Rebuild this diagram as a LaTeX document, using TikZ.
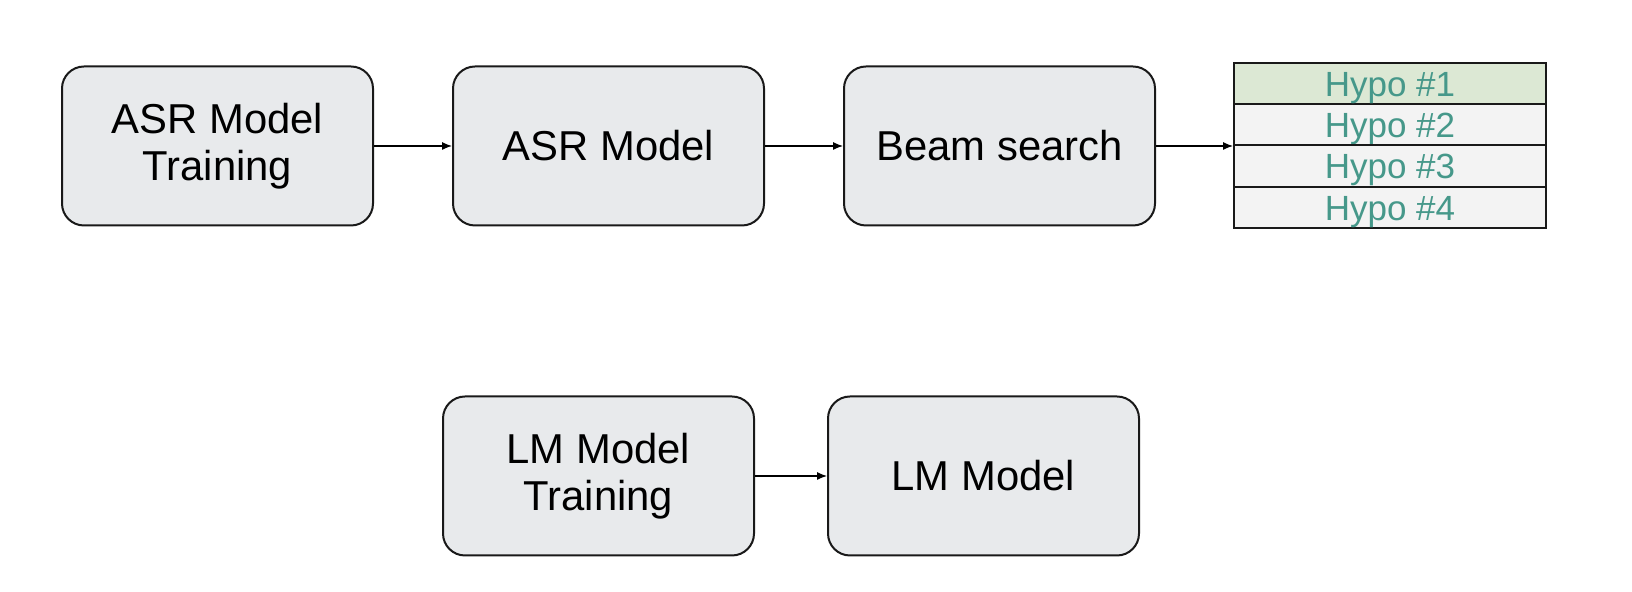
\documentclass[tikz,border=0pt]{standalone}
\usepackage{fontspec}
\setmainfont{Liberation Sans}
\usetikzlibrary{arrows.meta,positioning}
\definecolor{boxgray}{HTML}{E8EAEC}
\definecolor{hypogreen}{HTML}{DCE8D4}
\definecolor{hypogray}{HTML}{F3F3F3}
\definecolor{hypotext}{HTML}{46988A}
\tikzstyle{stage}=[rectangle,rounded corners=11pt,draw=black!90,line width=1pt,fill=boxgray,minimum width=155.5pt,minimum height=79.5pt,align=center,font=\fontsize{20.9}{23.5}\selectfont]
\tikzstyle{hypo}=[rectangle,draw=black!90,line width=1pt,fill=hypogray,minimum width=156pt,minimum height=20.6pt,inner sep=0pt,text height=16.5pt,text depth=3.7pt,text=hypotext,font=\fontsize{17.5}{20}\selectfont]
\tikzstyle{flow} = [draw,line width=0.6pt,-{Latex[length=5pt,width=4pt]}]

\begin{document}
\begin{tikzpicture}[x=0.5pt,y=0.5pt]
\useasboundingbox (0,0) rectangle (1632,592);

% upper row: ASR pipeline
    \foreach \pos/\name/\label in {{(217.5,446)/asrtrain/ASR Model\\Training}, {(608.5,446)/asr/ASR Model}, {(999.5,446)/beam/Beam search}}
        \node[stage] (\name) at \pos {\label};

% n-best list
    \foreach \pos/\name/\label in {{(1390,508.4)/hypoA/Hypo \#1}, {(1390,467.1)/hypoB/Hypo \#2}, {(1390,425.9)/hypoC/Hypo \#3}, {(1390,384.6)/hypoD/Hypo \#4}}
        \node[hypo] (\name) at \pos {\label};
    \node[hypo, fill=hypogreen] at (hypoA) {Hypo \#1};

% lower row: LM
    \foreach \pos/\name/\label in {{(598.5,116)/lmtrain/LM Model\\Training}, {(983.5,116)/lm/LM Model}}
        \node[stage] (\name) at \pos {\label};

  \foreach \source/ \dest in {asrtrain/asr, asr/beam, lmtrain/lm}
          \path[flow] (\source) -- (\dest);
  \path[flow] (beam.east) -- (beam.east -| hypoB.west);

\end{tikzpicture}
\end{document}
